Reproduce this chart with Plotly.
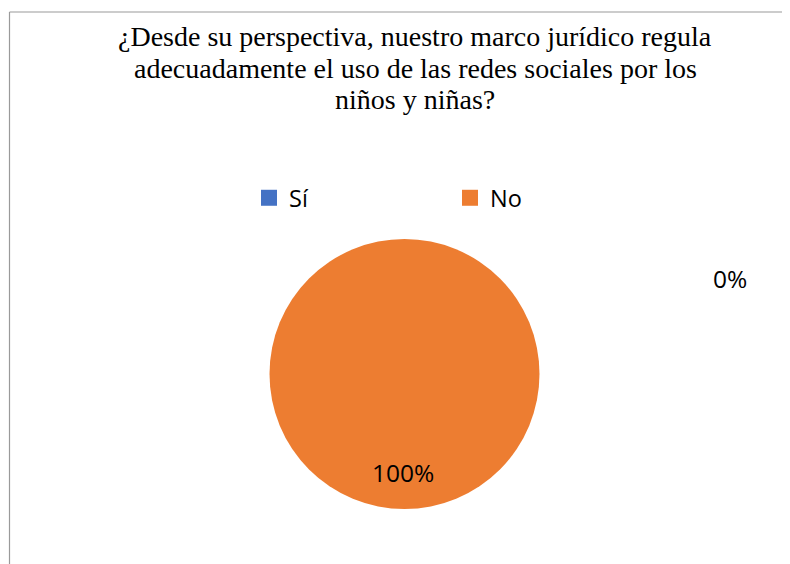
import plotly.graph_objects as go

categories = ["Sí", "No"]
values = [0, 100]
colors = ["#4472C4", "#ED7D31"]
title_lines = ["¿Desde su perspectiva, nuestro marco jurídico regula",
               "adecuadamente el uso de las redes sociales por los",
               "niños y niñas?"]

# page has an 8px body margin; figure coordinates below are relative to the figure
W, H = 782, 556
cx, cy, r = 396.5, 366, 135

total = sum(values)
pct = [f"{round(v / total * 100)}%" for v in values]

sans = "Open Sans, Liberation Sans, sans-serif"

fig = go.Figure()
fig.add_trace(go.Pie(
    labels=categories, values=values, sort=False, direction="clockwise",
    marker=dict(colors=colors, line=dict(width=0)),
    textinfo="none", hoverinfo="label+percent", showlegend=False,
    domain=dict(x=[(cx - r) / W, (cx + r) / W], y=[(H - cy - r) / H, (H - cy + r) / H]),
))
for cat, col in zip(categories, colors):
    fig.add_trace(go.Scatter(x=[None], y=[None], mode="markers", name=cat,
                             marker=dict(symbol="square", size=16, color=col)))

label_pos = [(721.5, 270), (395.5, 464)]
for t, (x, y) in zip(pct, label_pos):
    fig.add_annotation(x=x / W, y=1 - y / H, xref="paper", yref="paper", text=t,
                       xanchor="center", yanchor="middle",
                       showarrow=False, font=dict(family=sans, size=24.5, color="#000"))

for line, y in zip(title_lines, [28, 60, 92]):
    fig.add_annotation(x=407 / W, y=1 - y / H, xref="paper", yref="paper",
                       xanchor="center", yanchor="middle",
                       text=line, showarrow=False, align="center",
                       font=dict(family="Liberation Serif, Times New Roman, serif", size=28, color="#000"))

fig.add_shape(type="line", xref="paper", yref="paper", x0=1.5 / W, x1=1.5 / W, y0=0, y1=1 - 4 / H,
              line=dict(color="#9a9a9a", width=1.2))
fig.add_shape(type="line", xref="paper", yref="paper", x0=1.5 / W, x1=1, y0=1 - 4 / H, y1=1 - 4 / H,
              line=dict(color="#9a9a9a", width=1.2))

fig.update_layout(
    width=W, height=H, margin=dict(l=0, r=0, t=0, b=0),
    paper_bgcolor="white", plot_bgcolor="white",
    xaxis=dict(visible=False), yaxis=dict(visible=False),
    showlegend=True,
    legend=dict(orientation="h", x=241 / W, y=1 - 190 / H, xanchor="left", yanchor="middle",
                entrywidth=156, entrywidthmode="pixels",
                font=dict(family=sans, size=23.5, color="#000"),
                itemsizing="trace", traceorder="normal"),
)

fig.write_html("out.html")
